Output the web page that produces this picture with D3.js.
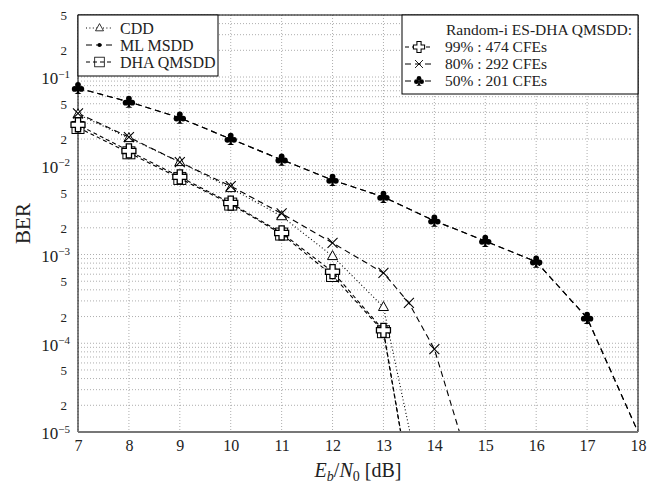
<!DOCTYPE html>
<html>
<head>
<meta charset="utf-8">
<script src="https://cdn.jsdelivr.net/npm/d3@7"></script>
<style>
  body { margin: 0; background: #fff; }
  svg { font-family: "Liberation Serif", "DejaVu Serif", serif; }
</style>
</head>
<body>
<svg width="647" height="484"></svg>
<script>
// values (BER vs Eb/N0)
const snr = [7, 8, 9, 10, 11, 12, 13, 14];
const cdd = [3.8e-2, 2.05e-2, 1.1e-2, 5.6e-3, 2.7e-3, 9.6e-4, 2.56e-4, 5e-7];
const dhaQmsdd = [2.7e-2, 1.4e-2, 7.2e-3, 3.7e-3, 1.7e-3, 5.8e-4, 1.35e-4, 6e-8];
const es99 = [2.9e-2, 1.47e-2, 7.5e-3, 3.8e-3, 1.75e-3, 6.4e-4, 1.4e-4, 6e-8];
const snr80 = [7, 8, 9, 10, 11, 12, 13, 13.5, 14, 15];
const es80 = [3.9e-2, 2.1e-2, 1.1e-2, 5.9e-3, 2.9e-3, 1.35e-3, 6.2e-4, 2.85e-4, 8.6e-5, 1.1e-6];
const snr50 = [7, 8, 9, 10, 11, 12, 13, 14, 15, 16, 17, 18];
const es50 = [7.5e-2, 5.25e-2, 3.47e-2, 2.0e-2, 1.17e-2, 6.9e-3, 4.45e-3, 2.4e-3, 1.42e-3, 8.3e-4, 1.93e-4, 1e-5];
const mlMsdd = es50.slice();

const xTicks = [7, 8, 9, 10, 11, 12, 13, 14, 15, 16, 17, 18];
const yLabelTicks = [5e-1, 2e-1, 1e-1, 5e-2, 2e-2, 1e-2, 5e-3, 2e-3, 1e-3, 5e-4, 2e-4, 1e-4, 5e-5, 2e-5, 1e-5];

const pLeft = 78, pRight = 638, pTop = 15, pBottom = 432;

const svg = d3.select("svg");

const x = d3.scaleLinear().domain([7, 18]).range([pLeft, pRight]);
const y = d3.scaleLog().domain([1e-5, 0.5]).range([pBottom, pTop]);

svg.append("defs").append("clipPath").attr("id", "plotclip")
  .append("rect")
  .attr("x", pLeft).attr("y", pTop)
  .attr("width", pRight - pLeft).attr("height", pBottom - pTop);

// grid
const grid = svg.append("g");
grid.selectAll("line.hg")
  .data(y.ticks())
  .enter().append("line")
  .attr("x1", pLeft).attr("x2", pRight)
  .attr("y1", d => y(d)).attr("y2", d => y(d))
  .attr("stroke", "#999").attr("stroke-width", 0.8)
  .attr("stroke-dasharray", "1,2");
grid.selectAll("line.vg")
  .data(xTicks)
  .enter().append("line")
  .attr("x1", d => x(d)).attr("x2", d => x(d))
  .attr("y1", pTop).attr("y2", pBottom)
  .attr("stroke", "#999").attr("stroke-width", 0.8)
  .attr("stroke-dasharray", "1,2");

// axes
const xAxis = svg.append("g")
  .attr("transform", `translate(0, ${pBottom})`)
  .call(d3.axisBottom(x).tickValues(xTicks).tickSize(0).tickPadding(8));
xAxis.select(".domain").remove();
xAxis.selectAll("text").attr("font-size", "16px").attr("font-family", "Liberation Serif").attr("fill", "#222");

const yAxis = svg.append("g")
  .attr("transform", `translate(${pLeft}, 0)`)
  .call(d3.axisLeft(y).tickValues(yLabelTicks).tickSize(0).tickPadding(8).tickFormat(""));
yAxis.select(".domain").remove();
yAxis.selectAll(".tick text").each(function(d) {
  const t = d3.select(this).attr("font-family", "Liberation Serif").attr("fill", "#222");
  const e = Math.round(Math.log10(d));
  const m = Math.round(d / Math.pow(10, Math.floor(Math.log10(d) + 1e-9)));
  if (m === 1) {
    t.attr("font-size", "17px").attr("dy", "0.4em");
    t.append("tspan").text("10");
    t.append("tspan").attr("font-size", "11px").attr("dy", "-0.6em").text("\u2212" + (-e));
  } else {
    t.attr("font-size", "13px").attr("dy", "0.35em").attr("x", -11).text(m);
  }
});

// frame
svg.append("line").attr("x1", pLeft).attr("x2", pLeft).attr("y1", pTop).attr("y2", pBottom).attr("stroke", "#000");
svg.append("line").attr("x1", pRight).attr("x2", pRight).attr("y1", pTop).attr("y2", pBottom).attr("stroke", "#000");
svg.append("line").attr("x1", pLeft).attr("x2", pRight).attr("y1", pTop).attr("y2", pTop).attr("stroke", "#000");

// markers
function drawMarker(g, type) {
  if (type === "tri") {
    g.append("path").attr("d", "M0,-5.5L5,3.5L-5,3.5Z")
      .attr("fill", "#fff").attr("stroke", "#000").attr("stroke-width", 1);
  } else if (type === "dot") {
    g.append("circle").attr("r", 2.6).attr("fill", "#000");
  } else if (type === "square") {
    g.append("rect").attr("x", -6).attr("y", -6).attr("width", 12).attr("height", 12)
      .attr("fill", "none").attr("stroke", "#000").attr("stroke-width", 1);
  } else if (type === "plus") {
    const a = 2.6, b = 7;
    g.append("path")
      .attr("d", `M${-a},${-b}H${a}V${-a}H${b}V${a}H${a}V${b}H${-a}V${a}H${-b}V${-a}H${-a}Z`)
      .attr("fill", "#fff").attr("stroke", "#000").attr("stroke-width", 1.3);
  } else if (type === "x") {
    g.append("path").attr("d", "M-5,-5L5,5M-5,5L5,-5")
      .attr("stroke", "#000").attr("stroke-width", 1.1).attr("fill", "none");
  } else if (type === "club") {
    g.append("circle").attr("cx", 0).attr("cy", -3.3).attr("r", 2.9).attr("fill", "#000");
    g.append("circle").attr("cx", -3.3).attr("cy", 0.8).attr("r", 2.9).attr("fill", "#000");
    g.append("circle").attr("cx", 3.3).attr("cy", 0.8).attr("r", 2.9).attr("fill", "#000");
    g.append("path").attr("d", "M-0.8,0L0.8,0L1.2,4.5L3.5,6L-3.5,6L-1.2,4.5Z").attr("fill", "#000");
  }
}

const series = [
  {xs: snr, ys: cdd, dash: "1,2.4", marker: "tri"},
  {xs: snr50, ys: mlMsdd, dash: "6,4", marker: "dot"},
  {xs: snr, ys: dhaQmsdd, dash: "4,3", offset: 0, marker: "square"},
  {xs: snr, ys: es99, dash: "4,3", offset: 3.5, marker: "plus"},
  {xs: snr80, ys: es80, dash: "6,4", marker: "x"},
  {xs: snr50, ys: es50, dash: "6,4", marker: "club"}
];

const line = d3.line().x(d => x(d[0])).y(d => y(d[1]));
const plot = svg.append("g").attr("clip-path", "url(#plotclip)");

series.forEach(s => {
  const pts = s.xs.map((v, i) => [v, s.ys[i]]);
  plot.append("path")
    .attr("d", line(pts))
    .attr("fill", "none").attr("stroke", "#000").attr("stroke-width", 1.1)
    .attr("stroke-dasharray", s.dash)
    .attr("stroke-dashoffset", s.offset || 0);
});
series.forEach(s => {
  s.xs.forEach((v, i) => {
    if (s.ys[i] <= 1e-5) return;
    const g = svg.append("g").attr("transform", `translate(${x(v)}, ${y(s.ys[i])})`);
    drawMarker(g, s.marker);
  });
});

// bottom axis line (gray)
svg.append("line").attr("x1", pLeft).attr("x2", pRight).attr("y1", pBottom).attr("y2", pBottom)
  .attr("stroke", "#777").attr("stroke-width", 2);

// legend 1
const leg1 = [
  {label: "CDD", dash: "1,2.4", marker: "tri"},
  {label: "ML MSDD", dash: "6,4", marker: "dot"},
  {label: "DHA QMSDD", dash: "4,3", marker: "square"}
];
svg.append("rect").attr("x", pLeft).attr("y", pTop).attr("width", 140).attr("height", 61)
  .attr("fill", "#fff").attr("stroke", "#000");
leg1.forEach((d, i) => {
  const yy = 28 + i * 17;
  svg.append("line").attr("x1", 86).attr("x2", 113).attr("y1", yy).attr("y2", yy)
    .attr("stroke", "#000").attr("stroke-dasharray", d.dash);
  const g = svg.append("g").attr("transform", `translate(99.5, ${yy}) scale(0.8)`);
  drawMarker(g, d.marker);
  svg.append("text").attr("x", 120).attr("y", yy).attr("dy", "0.35em")
    .attr("font-size", "16px").attr("fill", "#222").text(d.label);
});

// legend 2
const leg2Title = "Random-i ES-DHA QMSDD:";
const leg2 = [
  {label: "99% : 474 CFEs", dash: "4,3", marker: "plus"},
  {label: "80% : 292 CFEs", dash: "6,4", marker: "x"},
  {label: "50% : 201 CFEs", dash: "6,4", marker: "club"}
];
svg.append("rect").attr("x", 402).attr("y", pTop).attr("width", pRight - 402).attr("height", 79)
  .attr("fill", "#fff").attr("stroke", "#000");
svg.append("text").attr("x", 446).attr("y", 30).attr("dy", "0.35em")
  .attr("font-size", "15.5px").attr("fill", "#222").text(leg2Title);
leg2.forEach((d, i) => {
  const yy = 47 + i * 17;
  svg.append("line").attr("x1", 405).attr("x2", 433).attr("y1", yy).attr("y2", yy)
    .attr("stroke", "#000").attr("stroke-dasharray", d.dash);
  const g = svg.append("g").attr("transform", `translate(419, ${yy}) scale(0.8)`);
  drawMarker(g, d.marker);
  svg.append("text").attr("x", 445).attr("y", yy).attr("dy", "0.35em")
    .attr("font-size", "15.5px").attr("fill", "#222").text(d.label);
});

// axis labels
svg.append("text")
  .attr("transform", `translate(30, ${(pTop + pBottom) / 2}) rotate(-90)`)
  .attr("text-anchor", "middle").attr("font-size", "21px").attr("fill", "#222")
  .text("BER");

const xl = svg.append("text").attr("x", 358).attr("y", 477)
  .attr("text-anchor", "middle").attr("font-size", "20px").attr("fill", "#222");
xl.append("tspan").attr("font-style", "italic").text("E");
xl.append("tspan").attr("font-style", "italic").attr("font-size", "14px").attr("dy", 4).text("b");
xl.append("tspan").attr("dy", -4).text("/");
xl.append("tspan").attr("font-style", "italic").text("N");
xl.append("tspan").attr("font-size", "14px").attr("dy", 4).text("0");
xl.append("tspan").attr("dy", -4).text(" [dB]");
</script>
</body>
</html>
